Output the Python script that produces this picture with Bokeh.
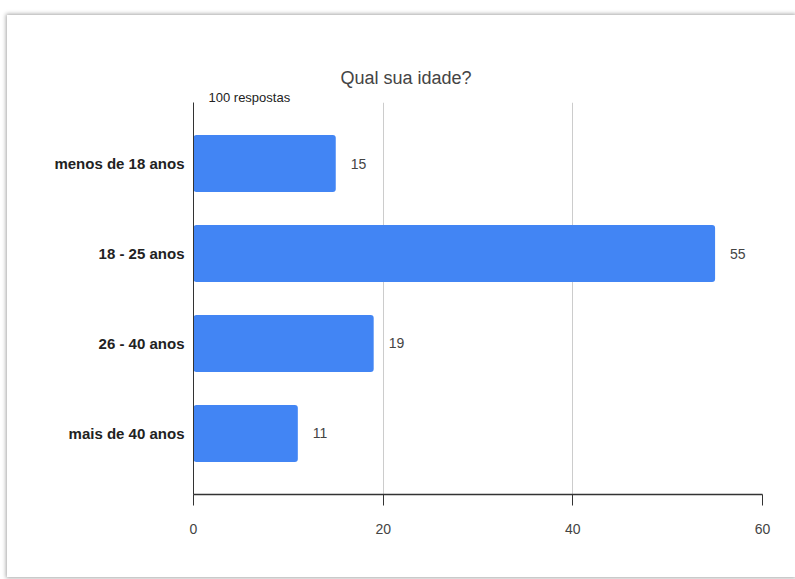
from bokeh.plotting import figure
from bokeh.models import Range1d, FactorRange, FixedTicker, Title, ColumnDataSource, LabelSet
from bokeh.core.properties import value
from bokeh.embed import file_html
from bokeh.resources import INLINE

categories = ["menos de 18 anos", "18 - 25 anos", "26 - 40 anos", "mais de 40 anos"]
counts = [15, 55, 19, 11]
x_ticks = [0, 20, 40, 60]
title_text = "Qual sua idade?"
subtitle_text = "100 respostas"

src = ColumnDataSource(dict(cat=categories, n=counts, lbl=[str(c) for c in counts]))

FONT = "Liberation Sans"

p = figure(
    width=788, height=562,
    y_range=FactorRange(factors=categories[::-1], range_padding=0.178, range_padding_units="absolute"),
    x_range=Range1d(0, 60),
    output_backend="svg", toolbar_location=None,
    min_border_left=186, min_border_right=33, min_border_top=87, min_border_bottom=83,
    margin=(15, 0, 0, 7),
    styles={"box-shadow": "0 0 4px 1px rgba(0,0,0,0.35)"},
    background_fill_color="white", border_fill_color="white",
    outline_line_color=None,
)

p.hbar(y="cat", right="n", left=0, height=0.633, source=src,
       fill_color="#4285f4", line_color=None, border_radius=3)

labels = LabelSet(x="n", y="cat", text="lbl", source=src, x_offset=15,
                  text_baseline="middle", text_align="left",
                  text_font=value(FONT), text_font_size="14px", text_color="#444444")
p.add_layout(labels)

sub = Title(text=subtitle_text, align="left", offset=15, standoff=-5,
            text_font=FONT, text_font_size="13px", text_font_style="normal",
            text_color="#222222")
p.add_layout(sub, "above")
main = Title(text=title_text, align="left", offset=147, standoff=6,
             text_font=FONT, text_font_size="18px", text_font_style="normal",
             text_color="#444444")
p.add_layout(main, "above")

p.xaxis.ticker = FixedTicker(ticks=x_ticks)
p.xaxis.axis_line_color = "#333333"
p.xaxis.axis_line_width = 1.5
p.xaxis.major_tick_line_color = "#333333"
p.xaxis.major_tick_out = 11
p.xaxis.major_tick_in = 0
p.xaxis.minor_tick_line_color = None
p.xaxis.major_label_standoff = 18
p.xaxis.major_label_text_font = FONT
p.xaxis.major_label_text_font_size = "14px"
p.xaxis.major_label_text_color = "#444444"

p.yaxis.axis_line_color = "#333333"
p.yaxis.major_tick_line_color = None
p.yaxis.minor_tick_line_color = None
p.yaxis.major_label_standoff = 3
p.yaxis.major_label_text_font = FONT
p.yaxis.major_label_text_font_size = "15px"
p.yaxis.major_label_text_font_style = "bold"
p.yaxis.major_label_text_color = "#222222"

p.ygrid.visible = False
p.xgrid.grid_line_color = "#cccccc"

open("out.html", "w").write(file_html(p, INLINE))
